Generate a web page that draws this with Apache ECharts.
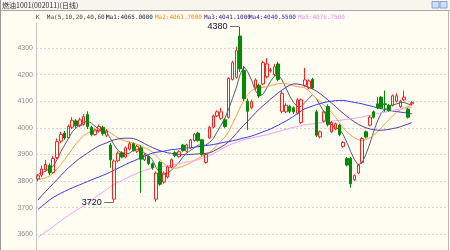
<!DOCTYPE html>
<html><head><meta charset="utf-8">
<script src="https://cdn.jsdelivr.net/npm/echarts@6/dist/echarts.min.js"></script>
<style>html,body{margin:0;padding:0;background:#fffcf2;overflow:hidden;}#c{width:450px;height:261px;}</style>
</head><body><div id="c"></div>
<script>
const titleText = '燃油1001(002011)(日线)';
const headerK = 'K  Ma(5,10,20,40,60)';
const maLabels = ['Ma1:4065.0000','Ma2:4061.7000','Ma3:4041.1000','Ma4:4040.5500','Ma5:4076.7500'];
const maLineColors = ['#4e6272','#f7a23e','#5b3a9c','#3a3af2','#f0a0f0'];
const maTextColors = ['#202040','#ff8000','#302080','#2828d0','#e090e8'];
const totalSlots = 108;
const categories = [];
for (let d = 1; d <= totalSlots; d++) categories.push('D' + d);
// [open, close, low, high]
const candles = [
[3808,3820,3800,3826],[3822,3845,3815,3858],[3842,3862,3835,3880],[3858,3830,3822,3866],[3832,3885,3828,3895],
[3888,3948,3882,3960],[3950,3975,3942,3985],[3980,3962,3955,3988],[3962,4005,3958,4012],[4002,4028,3995,4040],
[4026,4008,4000,4032],[4008,4030,4002,4038],[4012,4042,4008,4052],[4050,4005,3995,4062],[4002,3975,3968,4008],
[3975,3992,3970,3998],[3988,4005,3982,4012],[4002,3978,3970,4008],[3972,3988,3965,3995],[3935,3880,3850,3942],
[3732,3875,3720,3882],[3876,3905,3870,3912],[3906,3890,3885,3912],[3890,3925,3886,3930],[3920,3940,3915,3948],
[3940,3915,3910,3945],[3912,3930,3905,3936],[3925,3882,3755,3935],[3880,3898,3875,3905],[3892,3866,3860,3896],
[3865,3850,3842,3870],[3732,3830,3722,3836],[3870,3788,3782,3875],[3796,3830,3790,3836],[3815,3853,3810,3858],
[3852,3880,3848,3885],[3906,3896,3890,3912],[3892,3910,3888,3915],[3935,3915,3910,3940],[3912,3935,3908,3940],
[3925,3954,3920,3958],[3952,3976,3948,3980],[3980,3952,3948,3985],[3955,3900,3895,3958],[3870,3900,3865,3905],
[3962,4002,3958,4008],[4002,4045,3998,4050],[4045,4060,4040,4066],[4036,4060,4030,4075],[4030,4005,4000,4036],
[4040,4185,4035,4190],[4182,4245,4178,4252],[4190,4290,4185,4305],[4345,4222,4210,4380],[4215,4110,4100,4232],
[4100,4062,3992,4110],[4075,4098,4070,4105],[4150,4180,4142,4186],[4160,4120,4112,4166],[4165,4245,4160,4252],
[4192,4240,4186,4262],[4215,4218,4208,4225],[4200,4230,4195,4240],[4240,4182,4175,4248],[4062,4130,4055,4140],
[4060,4085,4055,4092],[4080,4062,4055,4086],[4075,4060,4052,4080],[4055,4105,4050,4112],[4020,4105,4015,4110],
[4160,4180,4155,4225],[4150,4176,4145,4182],[4182,4150,4145,4188],[4060,3972,3965,4068],[3966,3985,3960,3990],
[4025,4060,4020,4066],[4080,4012,4005,4088],[3985,4020,3980,4026],[3995,4015,3990,4020],[4010,3975,3968,4015],
[3930,3945,3925,3950],[3885,3860,3855,3890],[3885,3790,3775,3890],[3805,3820,3800,3825],[3830,3860,3826,3865],
[3870,3960,3865,3966],[3985,3965,3960,3990],[4010,4040,4005,4046],[4060,4040,4035,4065],[4090,4075,4070,4115],
[4115,4075,4070,4120],[4090,4088,4060,4140],[4085,4065,4060,4090],[4085,4120,4080,4125],[4100,4120,4095,4130],
[4080,4100,4075,4105],[4105,4115,4100,4140],[4070,4040,4035,4075],[4090,4095,4085,4100]
];
const ma1 = [
3825,3830,3838,3845,3855,3880,3910,3935,3960,3985,
4000,4010,4020,4025,4018,4005,3995,3990,3985,3960,
3935,3915,3905,3900,3905,3915,3920,3915,3905,3895,
3880,3850,3830,3825,3830,3840,3855,3870,3890,3905,
3915,3925,3935,3935,3935,3945,3960,3985,4010,4035,
4070,4110,4150,4200,4230,4210,4180,4140,4120,4125,
4150,4175,4195,4200,4180,4150,4120,4095,4080,4080,
4095,4110,4125,4110,4085,4060,4035,4010,4000,3995,
3975,3945,3910,3880,3860,3870,3900,3940,3985,4025,
4055,4070,4080,4085,4090,4095,4095,4090,4085];
const ma2 = [
3805,3808,3812,3818,3830,3845,3862,3880,3900,3920,
3940,3957,3970,3980,3985,3988,3990,3990,3988,3982,
3972,3962,3955,3950,3946,3942,3938,3932,3925,3918,
3910,3895,3880,3866,3855,3850,3848,3850,3855,3862,
3868,3876,3885,3893,3900,3908,3920,3935,3950,3965,
3985,4015,4045,4075,4105,4125,4140,4148,4150,4152,
4155,4158,4162,4166,4168,4166,4163,4158,4155,4153,
4150,4140,4125,4110,4098,4085,4072,4058,4040,4020,
4000,3985,3972,3962,3955,3953,3956,3962,3972,3985,
4000,4015,4030,4045,4058,4068,4075,4080,4085];
const ma3 = [
3728,3745,3760,3775,3790,3805,3820,3835,3850,3862,
3874,3886,3895,3905,3915,3924,3932,3938,3943,3950,
3955,3958,3960,3961,3961,3960,3955,3948,3940,3933,
3926,3920,3914,3910,3906,3904,3902,3900,3899,3899,
3900,3901,3902,3903,3904,3906,3912,3920,3928,3936,
3948,3962,3978,3995,4010,4025,4040,4056,4070,4083,
4095,4108,4120,4132,4142,4152,4160,4165,4165,4162,
4157,4152,4146,4138,4128,4117,4105,4093,4080,4067,
4055,4043,4032,4022,4013,4006,4000,3996,3993,3991,
3991,3992,3994,3997,4000,4004,4009,4014,4020];
const ma4 = [
3693,3705,3716,3728,3738,3746,3754,3761,3768,3774,
3780,3786,3792,3798,3804,3810,3815,3821,3827,3834,
3841,3848,3855,3862,3869,3875,3881,3887,3893,3899,
3905,3908,3910,3912,3915,3918,3919,3921,3922,3924,
3925,3927,3929,3931,3933,3935,3937,3940,3943,3946,
3948,3951,3954,3958,3962,3965,3969,3974,3979,3985,
3990,3996,4003,4010,4018,4025,4034,4043,4053,4063,
4072,4077,4082,4087,4091,4095,4098,4100,4102,4103,
4103,4101,4098,4095,4093,4090,4086,4083,4079,4075,
4072,4069,4066,4063,4061,4059,4057,4055,4053];
const ma5 = [
3588,3598,3608,3618,3628,3640,3650,3661,3671,3680,
3690,3698,3707,3716,3726,3738,3748,3758,3768,3778,
3788,3795,3802,3809,3816,3823,3829,3835,3840,3845,
3849,3851,3853,3855,3857,3859,3862,3865,3868,3871,
3874,3877,3880,3884,3889,3895,3903,3911,3919,3927,
3934,3940,3945,3950,3955,3959,3962,3965,3968,3971,
3974,3978,3982,3986,3990,3994,3998,4002,4005,4008,
4011,4013,4015,4017,4019,4021,4023,4025,4027,4028,
4030,4032,4034,4036,4038,4041,4044,4047,4050,4053,
4056,4059,4062,4065,4068,4071,4073,4075,4077];
const highMark = {index: 53, value: 4380, text: '4380'};
const lowMark = {index: 20, value: 3720, text: '3720'};

const chart = echarts.init(document.getElementById('c'), null, {renderer: 'canvas'});
const maSeries = [ma1, ma2, ma3, ma4, ma5].map((d, k) => ({
  type: 'line', name: 'MA' + (k + 1), data: d, symbol: 'none', silent: true, z: 3,
  lineStyle: {width: 1, color: maLineColors[k]}
}));
const markLabel = (m) => ({
  coord: [m.index, m.value], symbol: 'circle', symbolSize: 0.1,
  label: {show: true, position: 'left', distance: 1, formatter: m.text + ' —', fontSize: 9,
    verticalAlign: 'middle', fontFamily: 'Liberation Sans', color: '#101030'}
});
const headerX = [106, 155, 204, 249, 298];
const graphic = [
  {type: 'rect', shape: {x: 0, y: 0, width: 450, height: 22.6}, style: {fill: '#fffcf2'}, z: 100},
  {type: 'rect', shape: {x: 0, y: 0, width: 450, height: 10}, style: {fill: '#f7f5ee'}, z: 101},
  {type: 'line', shape: {x1: 0, y1: 10.5, x2: 450, y2: 10.5}, style: {stroke: '#a8a8a8', lineWidth: 1}, z: 102},
  {type: 'line', shape: {x1: 0.5, y1: 0, x2: 0.5, y2: 261}, style: {stroke: '#9a9a9a', lineWidth: 1}, z: 102},
  {type: 'line', shape: {x1: 448.5, y1: 10, x2: 448.5, y2: 261}, style: {stroke: '#b8b8b8', lineWidth: 1}, z: 102},
  {type: 'rect', shape: {x: 432, y: 1.5, width: 7, height: 6.5}, style: {fill: '#cfe0f4', stroke: '#7090c8', lineWidth: 0.8}, z: 102},
  {type: 'rect', shape: {x: 440, y: 1.5, width: 7, height: 6.5}, style: {fill: '#cfe0f4', stroke: '#7090c8', lineWidth: 0.8}, z: 102},
  {type: 'text', x: 2, y: 5.5, style: {text: titleText, fontSize: 7, fontFamily: 'Noto Sans CJK SC', fill: '#303030', verticalAlign: 'middle'}, z: 103},
  {type: 'text', x: 36, y: 17, style: {text: headerK, fontSize: 6, fontFamily: 'DejaVu Sans Mono', fill: '#404040', verticalAlign: 'middle'}, z: 103}
];
maLabels.forEach((t, k) => graphic.push({type: 'text', x: headerX[k], y: 17,
  style: {text: t, fontSize: 6, fontFamily: 'DejaVu Sans Mono', fill: maTextColors[k], verticalAlign: 'middle'}, z: 103}));

chart.setOption({
  animation: false,
  backgroundColor: '#fffcf2',
  grid: {left: 36, right: 2, top: 21.4, bottom: 0.2},
  xAxis: {type: 'category', data: categories, boundaryGap: true,
    axisLine: {show: false}, axisTick: {show: false}, axisLabel: {show: false}, splitLine: {show: false}},
  yAxis: {type: 'value', min: 3500, max: 4400, interval: 100, scale: true,
    axisLine: {show: true, lineStyle: {color: '#c4c4c4'}}, axisTick: {show: false},
    axisLabel: {showMinLabel: false, showMaxLabel: false, fontSize: 7, color: '#8a8a8a', margin: 3,
      fontFamily: 'Liberation Sans', formatter: (v) => String(v)},
    splitLine: {show: true, lineStyle: {color: '#d2d2d2', type: [2, 2]}}},
  graphic: graphic,
  series: [
    {type: 'candlestick', data: candles, barWidth: 3, z: 4,
      itemStyle: {color: 'rgba(255,252,242,0)', color0: '#008a00', borderColor: '#ff2020', borderColor0: '#008a00', borderWidth: 1},
      markPoint: {silent: true, data: [markLabel(highMark), markLabel(lowMark)]}},
    ...maSeries
  ]
});
</script></body></html>
